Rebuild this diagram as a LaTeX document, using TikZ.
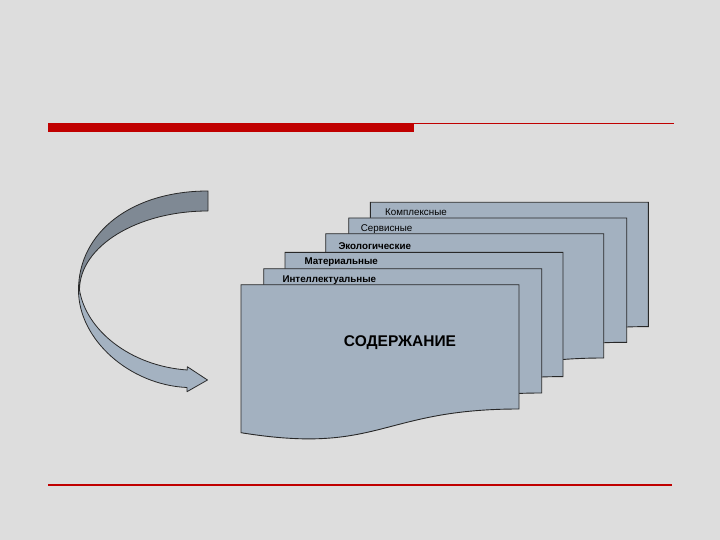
\documentclass[tikz,border=0pt]{standalone}
\usepackage{fontspec}
\setmainfont{Liberation Sans}

\definecolor{slidebg}{RGB}{221,221,221}
\definecolor{sheetfill}{RGB}{163,177,192}
\definecolor{banddark}{RGB}{127,137,148}
\definecolor{bandlight}{RGB}{164,178,193}
\definecolor{rulered}{RGB}{192,0,0}
\definecolor{edgegray}{RGB}{40,40,40}

\tikzset{
  sheet/.style={fill=sheetfill, draw=edgegray, line width=0.9pt},
  sheetlbl/.style={anchor=west, inner sep=0pt, font=\fontsize{9.8}{11}\selectfont},
  band/.style={draw=edgegray, line width=0.8pt, line join=round}
}

\begin{document}
\begin{tikzpicture}[x=1pt,y=-1pt]

\fill[slidebg] (0,0) rectangle (720,540);
\useasboundingbox (0,0) rectangle (720,540);

% red rules
\fill[rulered] (48,122.7) rectangle (414,131.7);
\draw[rulered, line width=1.3pt] (414,123.3) -- (674,123.3);
\draw[rulered, line width=1.3pt] (48,485) -- (672,485);

% sheets, back to front
\foreach \px/\py/\nm/\txt/\fnt/\dx/\dy in {
    370.3/202.3/kompl/Комплексные/\mdseries/14.7/10.2,
    348.7/218/serv/Сервисные/\mdseries/12/11,
    325.7/233.7/ekol/Экологические/\bfseries/12.6/12,
    285/252.3/mater/Материальные/\bfseries/19.3/10,
    263.7/268.7/intel/Интеллектуальные/\bfseries/18.6/11.3} {
  \draw[sheet] (\px,\py) -- (\px+278,\py) -- (\px+278,\py+124.3)
      .. controls (\px+139,\py+124.3) and (\px+139,\py+170.5) .. (\px,\py+148) -- cycle;
  \node[sheetlbl] (\nm) at (\px+\dx,\py+\dy) {\fnt\txt};
}

% front sheet
\draw[sheet] (241,284.7) -- (519,284.7) -- (519,409)
    .. controls (380,409) and (380,455.2) .. (241,432.7) -- cycle;
\node[font=\fontsize{15.5}{18}\selectfont\bfseries, inner sep=0pt] (soder) at (400,342.3) {СОДЕРЖАНИЕ};

% curved arrow
\draw[band, fill=banddark] (208,191) .. controls (132,191) and (78.5,232) .. (78.5,290)
    -- (79.5,290) .. controls (79.5,246.4) and (137,211) .. (208,211) -- cycle;
\draw[band, fill=bandlight] (78.5,290) .. controls (78.5,340) and (130,385) .. (187,387.5)
    -- (187,391.7) -- (207.5,380) -- (187.3,366.7) -- (187.3,370)
    .. controls (130,366) and (86,330) .. (79.5,290) -- cycle;

\end{tikzpicture}
\end{document}
